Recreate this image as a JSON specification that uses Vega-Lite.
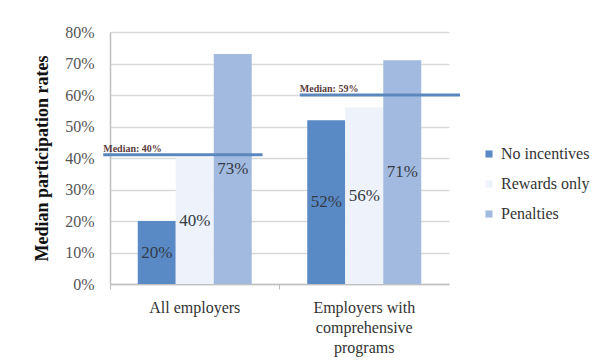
{
  "$schema": "https://vega.github.io/schema/vega-lite/v6.json",
  "width": 339,
  "height": 252,
  "autosize": {"type": "none"},
  "padding": {"left": 110, "top": 32, "right": 161, "bottom": 78},
  "background": "white",
  "config": {
    "view": {"stroke": null},
    "font": "Liberation Serif",
    "axisY": {
      "labelFont": "Liberation Serif", "labelFontSize": 16, "labelColor": "#555555",
      "labelPadding": 16, "ticks": false, "tickCount": 8,
      "grid": true, "gridColor": "#d9d9d9", "gridWidth": 1.5,
      "domainColor": "#bfbfbf", "domainWidth": 1.5,
      "titleFont": "Liberation Serif", "titleFontSize": 18, "titleFontWeight": "bold",
      "titleColor": "#111111", "titlePadding": 13
    }
  },
  "datasets": {
    "bars": [
      {"group": "All employers", "type": "No incentives", "value": 0.20},
      {"group": "All employers", "type": "Rewards only", "value": 0.40},
      {"group": "All employers", "type": "Penalties", "value": 0.73},
      {"group": "Employers with comprehensive programs", "type": "No incentives", "value": 0.52},
      {"group": "Employers with comprehensive programs", "type": "Rewards only", "value": 0.56},
      {"group": "Employers with comprehensive programs", "type": "Penalties", "value": 0.71}
    ],
    "medians": [
      {"group": "All employers", "level": 0.41, "label": "Median: 40%"},
      {"group": "Employers with comprehensive programs", "level": 0.60, "label": "Median: 59%"}
    ]
  },
  "layer": [
    {
      "layer": [
        {
          "data": {"name": "bars"},
          "mark": {"type": "bar"},
          "encoding": {
            "x": {
              "field": "group", "type": "nominal", "title": null,
              "scale": {"paddingInner": 0, "paddingOuter": 0},
              "axis": {
                "labelAngle": 0, "labelFont": "Liberation Serif", "labelFontSize": 16,
                "labelColor": "#333333", "labelPadding": 10, "domainColor": "#bfbfbf",
                "domainWidth": 1.5, "tickColor": "#bfbfbf", "tickSize": 5, "bandPosition": 0,
                "labelLineHeight": 20,
                "labelExpr": "datum.value == 'Employers with comprehensive programs' ? ['Employers with', 'comprehensive', 'programs'] : datum.label"
              }
            },
            "xOffset": {
              "field": "type", "type": "nominal",
              "sort": ["No incentives", "Rewards only", "Penalties"],
              "scale": {"paddingInner": 0, "paddingOuter": 0.73}
            },
            "y": {
              "field": "value", "type": "quantitative",
              "title": "Median participation rates",
              "scale": {"domain": [0, 0.8]},
              "axis": {"format": ".0%", "titleFontSize": 18, "titleFontWeight": "bold", "titleColor": "#111111"}
            },
            "color": {
              "field": "type", "type": "nominal", "title": null,
              "sort": ["No incentives", "Rewards only", "Penalties"],
              "scale": {"domain": ["No incentives", "Rewards only", "Penalties"], "range": ["#5a8ac6", "#eef2fa", "#a3bae0"]},
              "legend": {
                "orient": "none", "legendX": 371, "legendY": 114,
                "symbolType": "square", "symbolSize": 50, "symbolStrokeWidth": 0,
                "labelFont": "Liberation Serif", "labelFontSize": 16, "labelColor": "#333333",
                "rowPadding": 14, "labelOffset": 4
              }
            }
          }
        },
        {
          "data": {"name": "medians"},
          "transform": [{"filter": "datum.group == 'All employers'"}],
          "mark": {"type": "rule", "color": "#5b87bf", "strokeWidth": 3},
          "encoding": {
            "x": {"field": "group", "type": "nominal", "bandPosition": -0.04},
            "x2": {"field": "group", "bandPosition": 0.9},
            "y": {"field": "level", "type": "quantitative", "title": "Median participation rates", "axis": {"format": ".0%", "titleFontSize": 18, "titleFontWeight": "bold", "titleColor": "#111111"}}
          }
        },
        {
          "data": {"name": "medians"},
          "transform": [{"filter": "datum.group == 'All employers'"}],
          "mark": {"type": "text", "align": "left", "baseline": "bottom", "dy": -1, "font": "Liberation Serif", "fontSize": 10, "fontWeight": "bold", "color": "#5a3c3c"},
          "encoding": {
            "x": {"field": "group", "type": "nominal", "bandPosition": -0.04},
            "y": {"field": "level", "type": "quantitative", "title": "Median participation rates", "axis": {"format": ".0%", "titleFontSize": 18, "titleFontWeight": "bold", "titleColor": "#111111"}},
            "text": {"field": "label"}
          }
        },
        {
          "data": {"name": "medians"},
          "transform": [{"filter": "datum.group != 'All employers'"}],
          "mark": {"type": "rule", "color": "#5b87bf", "strokeWidth": 3},
          "encoding": {
            "x": {"field": "group", "type": "nominal", "bandPosition": 0.12},
            "x2": {"field": "group", "bandPosition": 1.065},
            "y": {"field": "level", "type": "quantitative", "title": "Median participation rates", "axis": {"format": ".0%", "titleFontSize": 18, "titleFontWeight": "bold", "titleColor": "#111111"}}
          }
        },
        {
          "data": {"name": "medians"},
          "transform": [{"filter": "datum.group != 'All employers'"}],
          "mark": {"type": "text", "align": "left", "baseline": "bottom", "dy": -1, "font": "Liberation Serif", "fontSize": 10, "fontWeight": "bold", "color": "#5a3c3c"},
          "encoding": {
            "x": {"field": "group", "type": "nominal", "bandPosition": 0.12},
            "y": {"field": "level", "type": "quantitative", "title": "Median participation rates", "axis": {"format": ".0%", "titleFontSize": 18, "titleFontWeight": "bold", "titleColor": "#111111"}},
            "text": {"field": "label"}
          }
        }
      ]
    },
    {
      "data": {"name": "bars"},
      "mark": {"type": "text", "font": "Liberation Serif", "fontSize": 17, "color": "#333a45", "baseline": "middle"},
      "encoding": {
        "x": {"field": "group", "type": "nominal"},
        "xOffset": {"field": "type", "type": "nominal", "sort": ["No incentives", "Rewards only", "Penalties"]},
        "y": {"field": "value", "type": "quantitative", "scale": {"domain": [0, 1.6]}, "axis": null},
        "text": {"field": "value", "type": "quantitative", "format": ".0%"},
        "detail": {"field": "type"}
      }
    }
  ],
  "resolve": {"scale": {"y": "independent"}, "axis": {"y": "independent"}}
}
